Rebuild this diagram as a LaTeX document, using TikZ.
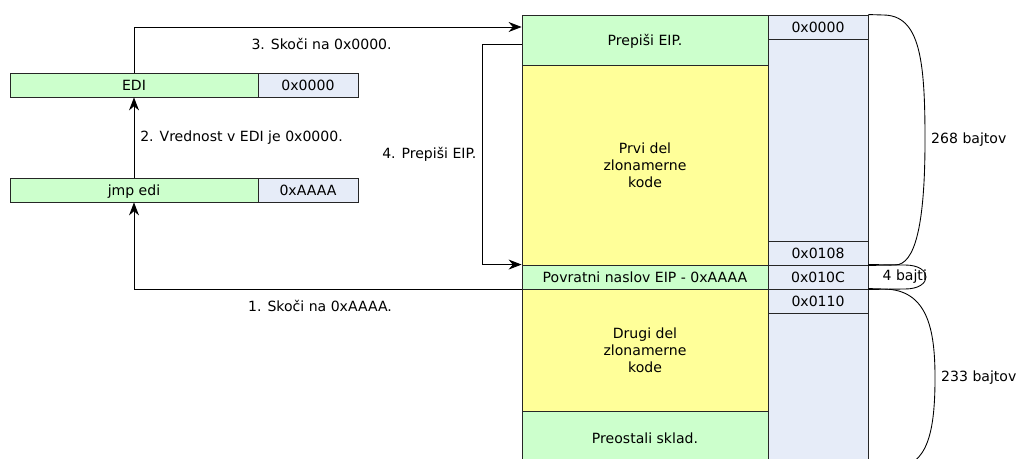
\documentclass[tikz,border=0pt]{standalone}
\usepackage{fontspec}
\setmainfont{DejaVu Sans}
\usetikzlibrary{arrows.meta}

\definecolor{regcol}{HTML}{CCFFCC}
\definecolor{codecol}{HTML}{FFFF99}
\definecolor{addrcol}{HTML}{E6ECF8}

\begin{document}
\begin{tikzpicture}[x=0.02cm,y=-0.02cm,
        font=\fontsize{8}{9.7}\selectfont,
        cell/.style={draw=black!85,line width=0.5pt,inner sep=0pt,align=center},
        oneline/.style={text height=1.6ex,text depth=0.45ex},
        regbox/.style={cell,oneline,fill=regcol},
        codebox/.style={cell,fill=codecol},
        addrbox/.style={cell,oneline,fill=addrcol,minimum width=2cm},
        arr/.style={-{Stealth[length=2.6mm,width=2mm]},line width=0.5pt},
        brace/.style={line width=0.5pt}]

        \useasboundingbox (0,0) rectangle (1026,459);
        \clip (0,0) rectangle (1026,459);

        % Stack
        \node[regbox,minimum width=4.92cm,minimum height=1cm] (eip) at (645,40) {Prepiši EIP.};
        \node[codebox,minimum width=4.92cm,minimum height=4cm] (code1) at (645,165) {Prvi del\\zlonamerne\\kode};
        \node[regbox,minimum width=4.92cm,minimum height=0.48cm] (ret) at (645,277) {Povratni naslov EIP - 0xAAAA};
        \node[codebox,minimum width=4.92cm,minimum height=2.44cm] (code2) at (645,350) {Drugi del\\zlonamerne\\kode};
        \node[regbox,minimum width=4.92cm,minimum height=1.08cm] (rest) at (645,438) {Preostali sklad.};

        % Addresses
        \node[addrbox,minimum height=0.48cm] (a0) at (818,27) {0x0000};
        \node[addrbox,minimum height=4.04cm] (blank1) at (818,140) {};
        \node[addrbox,minimum height=0.48cm] (a108) at (818,253) {0x0108};
        \node[addrbox,minimum height=0.48cm] (a10c) at (818,277) {0x010C};
        \node[addrbox,minimum height=0.48cm] (a110) at (818,301) {0x0110};
        \node[addrbox,minimum height=3.14cm] (blank2) at (818,391.5) {};

        % Registers
        \node[regbox,minimum width=4.96cm,minimum height=0.48cm] (edi) at (134,85) {EDI};
        \node[addrbox,minimum height=0.48cm] (ediv) at (308,85) {0x0000};
        \node[regbox,minimum width=4.96cm,minimum height=0.48cm] (jmp) at (134,190) {jmp edi};
        \node[addrbox,minimum height=0.48cm] (jmpv) at (308,190) {0xAAAA};

        % Steps
        \draw[arr] (ret.south west) -| node[below,pos=0.26,yshift=-0.1cm] {1. Skoči na 0xAAAA.} (jmp.south);
        \draw[arr] (jmp.north) -- node[right] {2. Vrednost v EDI je 0x0000.} (edi.south);
        \draw[arr] (edi.north) |- node[below,pos=0.742,yshift=-0.1cm] {3. Skoči na 0x0000.} ([yshift=0.26cm]eip.west);
        \draw[arr] ([yshift=-0.08cm]eip.west) -- ++(-39,0) |- node[left,pos=0.25] {4. Prepiši EIP.} (ret.north west);

        % Braces
        \coordinate (b268) at (925,140);
        \coordinate (b233) at (935,378);

        \draw[brace] (a0.north east) -- (883,15) .. controls (920,15) and (925,60) .. (b268)
            .. controls (925,225) and (915,265) .. (895,265) -- (a108.south east);
        \draw[brace] (a10c.north east) -- (905,265) .. controls (933,265) and (933,289) .. (905,289) -- (a10c.south east);
        \draw[brace] (a110.north east) -- (883,289) .. controls (928,289) and (935,330) .. (b233)
            .. controls (935,430) and (928,467) .. (895,467);

        \node[right] (t268) at (b268) {268 bajtov};
        \node[right,xshift=0.16cm] (t4) at (a10c.east) {4 bajti};
        \node[right] (t233) at (b233) {233 bajtov};

\end{tikzpicture}
\end{document}
